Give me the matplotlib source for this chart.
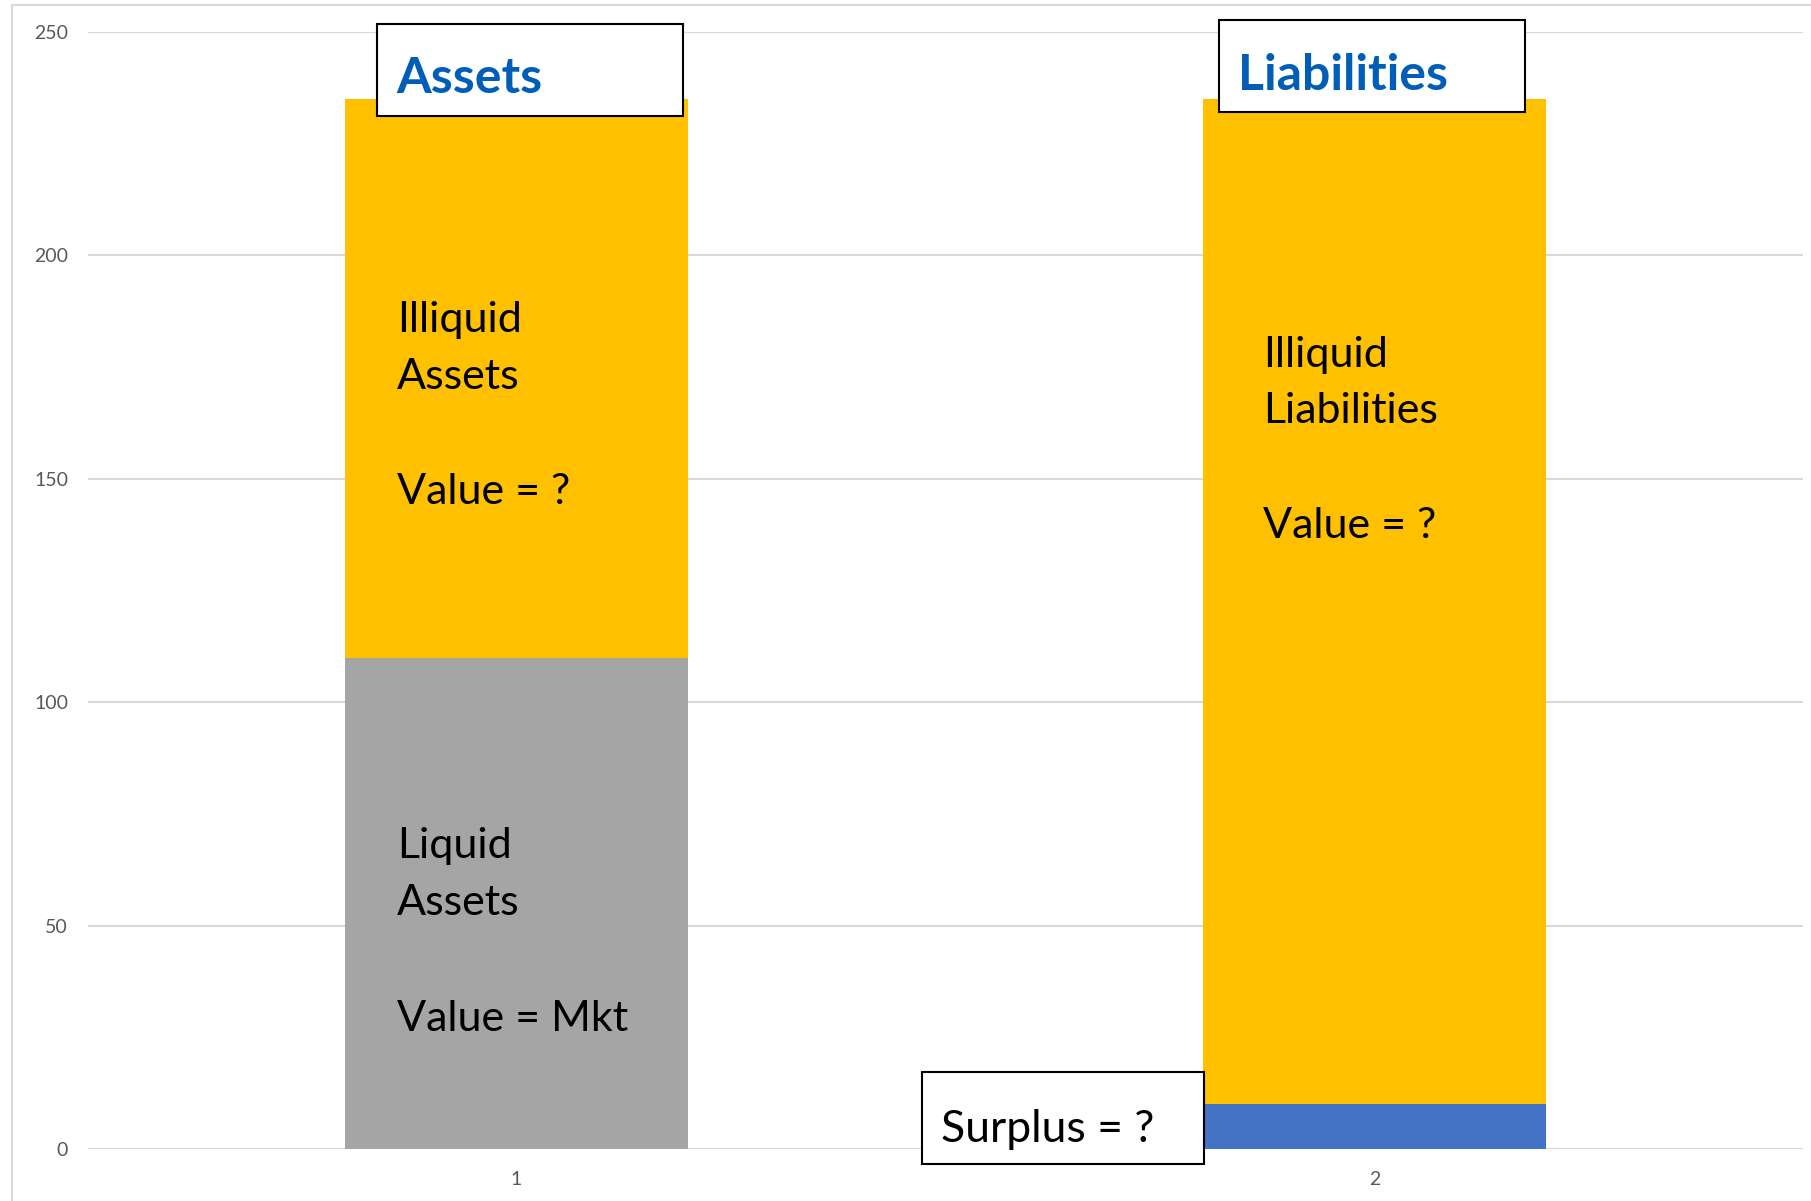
import matplotlib.pyplot as plt
from matplotlib.patches import Rectangle

# Data
categories = [1, 2]
liquid_assets = [110, 0]
surplus = [0, 10]
illiquid = [125, 225]

W, H = 1811, 1201
plt.rcParams['font.family'] = ['Lato', 'DejaVu Sans']

fig = plt.figure(figsize=(W / 100, H / 100), dpi=100)
ax = fig.add_axes([87.5 / W, 52 / H, 1716 / W, 1117 / H])

x = [0, 1]
bottom2 = [a + s for a, s in zip(liquid_assets, surplus)]
ax.bar(x, liquid_assets, width=0.4, color='#A5A5A5')
ax.bar(x, surplus, width=0.4, color='#4472C4')
ax.bar(x, illiquid, width=0.4, bottom=bottom2, color='#FFC000')

ax.set_xlim(-0.5, 1.5)
ax.set_ylim(0, 250)
ax.set_yticks([0, 50, 100, 150, 200, 250])
ax.set_xticks(x)
ax.set_xticklabels([str(c) for c in categories])
ax.tick_params(length=0, labelsize=14, labelcolor='#595959')
ax.tick_params(axis='y', pad=14)
ax.tick_params(axis='x', pad=16)
ax.grid(axis='y', color='#d9d9d9', linewidth=1.5)
ax.set_axisbelow(True)
for s in ax.spines.values():
    s.set_visible(False)

# outer chart border
fig.patches.append(Rectangle((12 / W, -0.01), 1.02, 1 - 5 / H + 0.01, transform=fig.transFigure,
                             fill=False, edgecolor='#d9d9d9', linewidth=1.5))


def px_text(px, py, s, **kw):
    fig.text(px / W, 1 - py / H, s, va='baseline', ha='left', **kw)


def px_box(x0, y0, x1, y1):
    fig.patches.append(Rectangle((x0 / W, 1 - y1 / H), (x1 - x0) / W, (y1 - y0) / H,
                                 transform=fig.transFigure, facecolor='white',
                                 edgecolor='black', linewidth=1.5, zorder=5))


# labels inside bars
for s, py in [('Illiquid', 332), ('Assets', 389), ('Value = ?', 504)]:
    px_text(397, py, s, fontsize=31, color='black')
for s, py in [('Liquid', 858), ('Assets', 915), ('Value = Mkt', 1031)]:
    px_text(397, py, s, fontsize=31, color='black')
for s, py in [('Illiquid', 367), ('Liabilities', 423), ('Value = ?', 538)]:
    px_text(1263, py, s, fontsize=31, color='black')

# header boxes
px_box(377, 24, 683, 116)
px_text(396, 93, 'Assets', fontsize=36, fontweight='bold', color='#005EB8', zorder=6)
px_box(1219, 20, 1525, 112)
px_text(1238, 90, 'Liabilities', fontsize=36, fontweight='bold', color='#005EB8', zorder=6)

px_box(922, 1072, 1204, 1164)
px_text(941, 1142, 'Surplus = ?', fontsize=32, color='black', zorder=6)

fig.savefig('out.png', dpi=100)
